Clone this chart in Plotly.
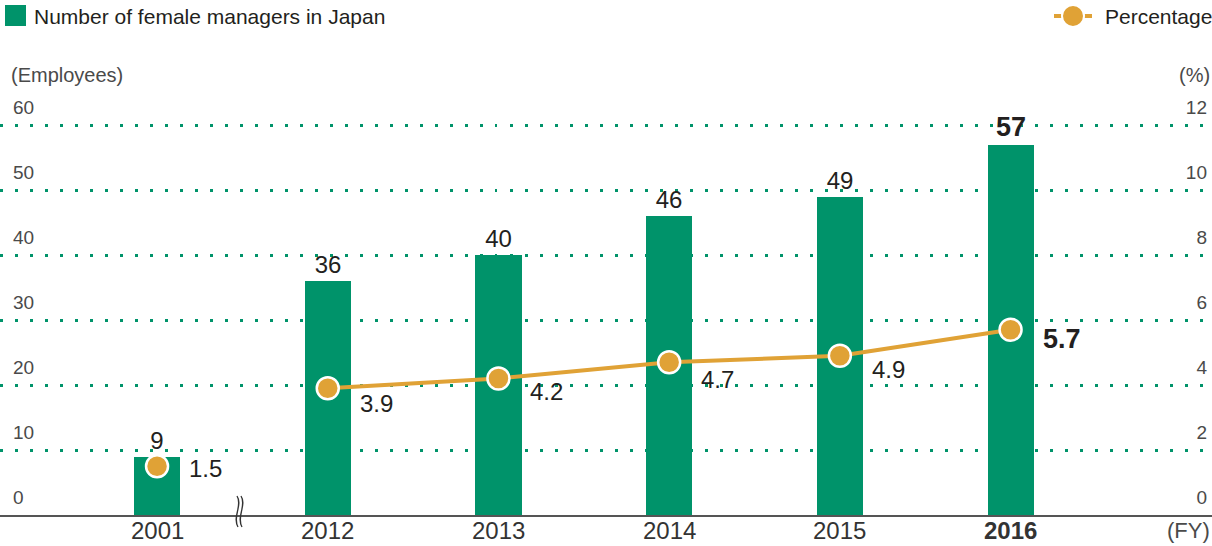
import plotly.graph_objects as go

years = ["2001", "2012", "2013", "2014", "2015", "2016"]
year_labels = ["2001", "2012", "2013", "2014", "2015", "<b>2016</b>"]
managers = [9, 36, 40, 46, 49, 57]
manager_labels = ["9", "36", "40", "46", "49", "<b>57</b>"]
percentage = [1.5, 3.9, 4.2, 4.7, 4.9, 5.7]
percentage_labels = ["1.5", "3.9", "4.2", "4.7", "4.9", "<b>5.7</b>"]
left_ticks = [0, 10, 20, 30, 40, 50, 60]
right_ticks = [0, 2, 4, 6, 8, 10, 12]

# styling (label font sizes and offsets per point)
label_sizes = [24, 24, 24, 24, 24, 27]
pct_label_yshift = [-2, -15, -13, -17, -14, -9]

GREEN = "#00936A"
ORANGE = "#E0A236"
TEXT = "#231F20"
GREY = "#4a4a4a"
FONT = "Liberation Sans, Arial, sans-serif"

W, H = 1212, 546
T, B = 80, 31
PH = H - T - B


def py(ypx):
    return (H - B - ypx) / PH


xs = list(range(len(years)))

fig = go.Figure()
fig.add_trace(go.Bar(
    x=xs, y=managers, width=0.27,
    marker=dict(color=GREEN, line=dict(width=0)),
    text=manager_labels, textposition="outside", cliponaxis=False,
    textfont=dict(size=label_sizes, color=TEXT, family=FONT),
    name="Number of female managers in Japan", showlegend=False,
))
marker_style = dict(size=22, color=ORANGE, line=dict(color="white", width=2.5))
# 2001 stands alone before the axis break
fig.add_trace(go.Scatter(
    x=xs[:1], y=percentage[:1], yaxis="y2", mode="markers",
    marker=marker_style, showlegend=False, cliponaxis=False,
))
fig.add_trace(go.Scatter(
    x=xs[1:], y=percentage[1:], yaxis="y2", mode="lines+markers",
    line=dict(color=ORANGE, width=4), marker=marker_style,
    name="Percentage", showlegend=False, cliponaxis=False,
))

annotations = []
for i, (v, lab) in enumerate(zip(percentage, percentage_labels)):
    annotations.append(dict(
        x=i, y=v, xref="x", yref="y2", text=lab, showarrow=False,
        xanchor="left", yanchor="middle", xshift=30, yshift=pct_label_yshift[i],
        font=dict(size=label_sizes[i], color=TEXT, family=FONT),
    ))

# category labels along the x axis
for i, lab in enumerate(year_labels):
    annotations.append(dict(
        x=i, y=py(530), xref="x", yref="paper", text=lab, showarrow=False,
        xanchor="center", yanchor="middle",
        font=dict(size=24, color="#333", family=FONT),
    ))

annotations += [
    dict(x=9 / W, y=py(75), xref="paper", yref="paper", text="(Employees)",
         showarrow=False, xanchor="left", yanchor="middle",
         font=dict(size=20, color=GREY, family=FONT)),
    dict(x=1212 / W, y=py(75), xref="paper", yref="paper", text="(%)",
         showarrow=False, xanchor="right", yanchor="middle",
         font=dict(size=20, color=GREY, family=FONT)),
    dict(x=1212 / W, y=py(530), xref="paper", yref="paper", text="(FY)",
         showarrow=False, xanchor="right", yanchor="middle",
         font=dict(size=22, color=GREY, family=FONT)),
    dict(x=32 / W, y=py(16), xref="paper", yref="paper",
         text="Number of female managers in Japan",
         showarrow=False, xanchor="left", yanchor="middle",
         font=dict(size=21, color=TEXT, family=FONT)),
    dict(x=1103 / W, y=py(16), xref="paper", yref="paper", text="Percentage",
         showarrow=False, xanchor="left", yanchor="middle",
         font=dict(size=21, color=TEXT, family=FONT)),
]

shapes = [
    dict(type="rect", xref="paper", yref="paper", x0=5 / W, x1=26 / W,
         y0=py(26), y1=py(5), fillcolor=GREEN, line=dict(width=0)),
    dict(type="line", xref="paper", yref="paper", x0=1054 / W, x1=1092 / W,
         y0=py(16), y1=py(16), line=dict(color=ORANGE, width=4)),
    dict(type="circle", xref="paper", yref="paper", x0=1062 / W, x1=1084 / W,
         y0=py(27), y1=py(5), fillcolor=ORANGE, line=dict(color="white", width=2)),
    dict(type="path", xref="paper", yref="paper", xsizemode="pixel", ysizemode="pixel",
         xanchor=240 / W, yanchor=0,
         path="M -3,19 C 3,10 -8,-2 -2,-12 M 1,19 C 7,10 -4,-2 2,-12",
         line=dict(color="#333", width=1.3)),
]

fig.update_layout(
    width=W, height=H,
    margin=dict(l=0, r=0, t=T, b=B, autoexpand=False),
    paper_bgcolor="white", plot_bgcolor="white",
    font=dict(family=FONT, color=TEXT),
    showlegend=False,
    bargap=0,
    xaxis=dict(
        range=[-0.92, 6.18], tickvals=xs, showticklabels=False, automargin=False,
        showgrid=False, zeroline=False, showline=True, linecolor="#555", linewidth=1.5,
        ticks="",
    ),
    yaxis=dict(
        range=[0, 60 * PH / 390], tickvals=left_ticks, automargin=False,
        showgrid=True, gridcolor=GREEN, gridwidth=2.5, griddash="2.5px,12.5px",
        zeroline=False, showline=False, ticks="",
        ticklabelposition="inside top", ticklabelstandoff=10, ticklabelshift=-4,
        tickfont=dict(size=19, color=GREY, family=FONT),
    ),
    yaxis2=dict(
        range=[0, 12 * PH / 390], tickvals=right_ticks, overlaying="y", automargin=False,
        side="right", showgrid=False, zeroline=False, showline=False, ticks="",
        ticklabelposition="inside top", ticklabelstandoff=2, ticklabelshift=-4,
        tickfont=dict(size=19, color=GREY, family=FONT),
    ),
    annotations=annotations,
    shapes=shapes,
)

fig.write_html("out.html", config={"displayModeBar": False},
               post_script="document.body.style.margin='0';")
